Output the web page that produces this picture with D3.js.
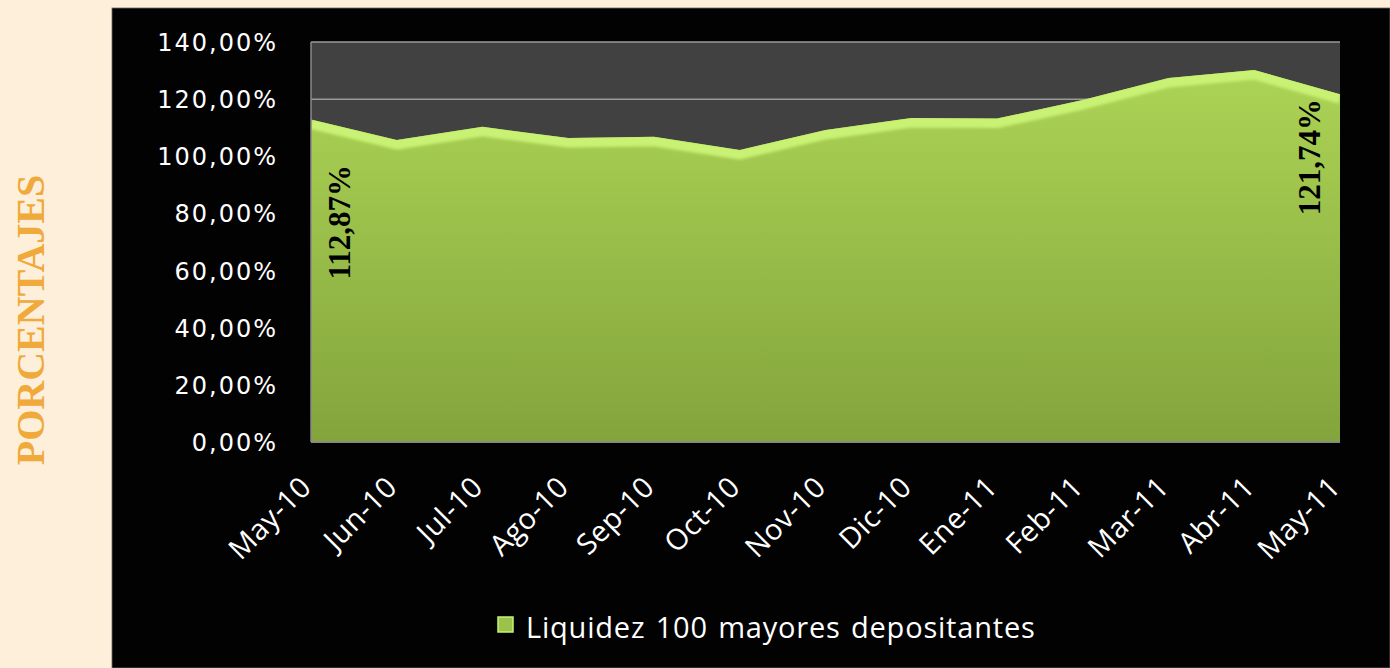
<!DOCTYPE html>
<html>
<head>
<meta charset="utf-8">
<script src="https://cdn.jsdelivr.net/npm/d3@7"></script>
<style>
  html, body { margin: 0; padding: 0; background: #fdefd9; overflow: hidden; }
  svg { display: block; }
</style>
</head>
<body>
<script>
// Data
var months = ["May-10", "Jun-10", "Jul-10", "Ago-10", "Sep-10", "Oct-10", "Nov-10",
              "Dic-10", "Ene-11", "Feb-11", "Mar-11", "Abr-11", "May-11"];
var liquidez = [112.87, 105.7, 110.3, 106.4, 106.8, 102.2, 109.2,
                113.4, 113.2, 119.7, 127.4, 130.2, 121.74];
var yTicks = [0, 20, 40, 60, 80, 100, 120, 140];
var seriesName = "Liquidez 100 mayores depositantes";
var axisTitle = "PORCENTAJES";

// Layout
var w = 1390, h = 668;
var box = { x: 112, y: 8, w: 1278, h: 660 };
var plot = { left: 311, right: 1340, top: 42, bottom: 442 };

var svg = d3.select("body").append("svg")
    .attr("width", w)
    .attr("height", h);

var defs = svg.append("defs");

var grad = defs.append("linearGradient")
    .attr("id", "areaFill")
    .attr("x1", 0).attr("y1", 0).attr("x2", 0).attr("y2", 1);
grad.append("stop").attr("offset", "0%").attr("stop-color", "#acd455");
grad.append("stop").attr("offset", "100%").attr("stop-color", "#83a43c");

defs.append("filter").attr("id", "soft")
  .append("feGaussianBlur").attr("stdDeviation", 1.6);

// Black chart box
svg.append("rect")
    .attr("x", box.x).attr("y", box.y)
    .attr("width", box.w).attr("height", box.h)
    .attr("fill", "#020202")
    .attr("stroke", "#6a6a6a")
    .attr("stroke-width", 0.8);

// Axis title
svg.append("text")
    .attr("transform", "translate(44,320) rotate(-90)")
    .attr("text-anchor", "middle")
    .attr("font-family", "'Liberation Serif', 'DejaVu Serif', serif")
    .attr("font-weight", "bold")
    .attr("font-size", 40)
    .attr("fill", "#f0a93b")
    .text(axisTitle);

// Scales
var x = d3.scalePoint()
    .domain(months)
    .range([plot.left, plot.right]);

var y = d3.scaleLinear()
    .domain([0, 140])
    .range([plot.bottom, plot.top]);

// Plot back wall
svg.append("rect")
    .attr("x", plot.left).attr("y", plot.top)
    .attr("width", plot.right - plot.left)
    .attr("height", plot.bottom - plot.top)
    .attr("fill", "#414141");

// Gridlines
svg.append("g")
  .selectAll("line")
  .data(yTicks)
  .join("line")
    .attr("x1", plot.left).attr("x2", plot.right)
    .attr("y1", function(d) { return y(d); })
    .attr("y2", function(d) { return y(d); })
    .attr("stroke", "#9a9a9a")
    .attr("stroke-width", 1.5);

// Area
var area = d3.area()
    .x(function(d, i) { return x(months[i]); })
    .y0(y(0))
    .y1(function(d) { return y(d); });

var line = d3.line()
    .x(function(d, i) { return x(months[i]); })
    .y(function(d) { return y(d); });

defs.append("clipPath").attr("id", "areaClip")
  .append("path").attr("d", area(liquidez));

svg.append("path")
    .attr("d", area(liquidez))
    .attr("fill", "url(#areaFill)");

// Light bevel along the top edge
svg.append("g")
    .attr("clip-path", "url(#areaClip)")
  .append("path")
    .attr("d", line(liquidez))
    .attr("transform", "translate(0,4)")
    .attr("fill", "none")
    .attr("stroke", "#c9f274")
    .attr("stroke-width", 11)
    .attr("stroke-linejoin", "round")
    .attr("filter", "url(#soft)");

// Plot frame
svg.append("line")
    .attr("x1", plot.left).attr("x2", plot.left)
    .attr("y1", plot.top).attr("y2", plot.bottom)
    .attr("stroke", "#8a8a8a").attr("stroke-width", 1.5);
svg.append("line")
    .attr("x1", plot.left).attr("x2", plot.right)
    .attr("y1", plot.bottom).attr("y2", plot.bottom)
    .attr("stroke", "#8a8a8a").attr("stroke-width", 1.5);

// Y axis labels
var fmt = function(d) { return d3.format(".2f")(d).replace(".", ",") + "%"; };

svg.append("g")
  .selectAll("text")
  .data(yTicks)
  .join("text")
    .attr("x", 278)
    .attr("y", function(d) { return y(d) + 9; })
    .attr("text-anchor", "end")
    .attr("font-family", "'DejaVu Sans', Verdana, sans-serif")
    .attr("font-size", 24)
    .attr("letter-spacing", 2)
    .attr("fill", "#ffffff")
    .text(fmt);

// X axis labels
svg.append("g")
  .selectAll("text")
  .data(months)
  .join("text")
    .attr("transform", function(d) { return "translate(" + (x(d) + 2) + "," + 489 + ") rotate(-45)"; })
    .attr("text-anchor", "end")
    .attr("font-family", "'Open Sans', 'Liberation Sans', sans-serif")
    .attr("font-size", 29)
    .attr("letter-spacing", 0.5)
    .attr("fill", "#ffffff")
    .text(function(d) { return d; });

// Data labels (first and last points)
var labelIdx = [0, months.length - 1];
var labelOffset = [[39, 160], [-20, 121]];
svg.append("g")
  .selectAll("text")
  .data(labelIdx)
  .join("text")
    .attr("transform", function(d, i) {
      return "translate(" + (x(months[d]) + labelOffset[i][0]) + "," +
             (y(liquidez[d]) + labelOffset[i][1]) + ") rotate(-90)";
    })
    .attr("font-family", "'Liberation Serif', 'DejaVu Serif', serif")
    .attr("font-weight", "bold")
    .attr("font-size", 31)
    .attr("fill", "#000000")
    .text(function(d) { return fmt(liquidez[d]); });

// Legend
var legend = svg.append("g").attr("transform", "translate(498,617)");
legend.append("rect")
    .attr("x", 0).attr("y", 0)
    .attr("width", 15).attr("height", 15)
    .attr("fill", "#9bc24a")
    .attr("stroke", "#c9f274")
    .attr("stroke-width", 1.5);
legend.append("text")
    .attr("x", 28)
    .attr("y", 21)
    .attr("font-family", "'Open Sans', 'Liberation Sans', sans-serif")
    .attr("font-size", 29)
    .attr("letter-spacing", 0.8)
    .attr("word-spacing", 2)
    .attr("fill", "#ffffff")
    .text(seriesName);
</script>
</body>
</html>
